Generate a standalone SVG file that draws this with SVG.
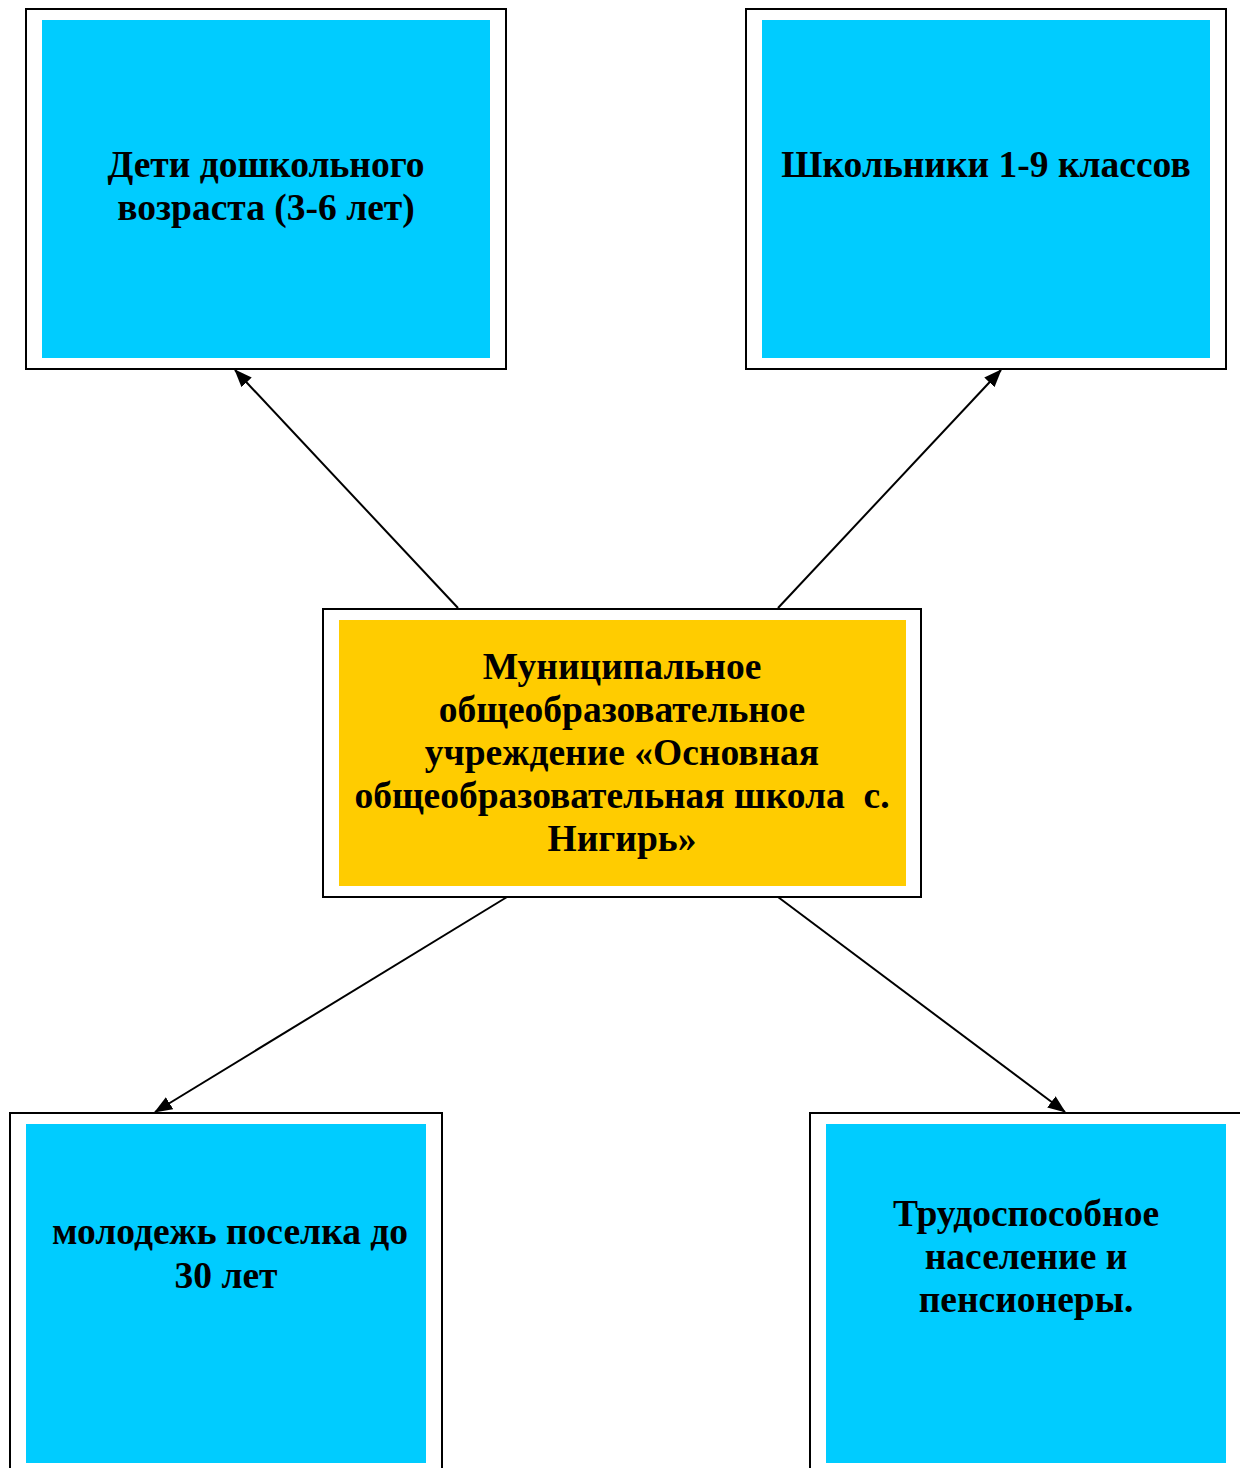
<svg xmlns="http://www.w3.org/2000/svg" width="1240" height="1468" viewBox="0 0 1240 1468">
<style>
.frame{fill:#fff;stroke:#000;stroke-width:2}
.blue{fill:#00ccff}
.gold{fill:#ffcc00}
.t{font-family:"Liberation Serif","Times New Roman",serif;font-weight:bold;font-size:37.5px;fill:#000;text-anchor:middle}
.c{stroke:#000;stroke-width:2;fill:none;marker-end:url(#ah)}
</style>
<defs>
<marker id="ah" markerWidth="18" markerHeight="14" refX="17" refY="7" orient="auto" markerUnits="userSpaceOnUse">
<path d="M0,0 L18,7 L0,14 Z" fill="#000"/>
</marker>
</defs>
<rect width="1240" height="1468" fill="#fff"/>
<g id="node-preschool">
<rect class="frame" x="26" y="9" width="480" height="360"/>
<rect class="blue" x="42" y="20" width="448" height="338"/>
<text class="t" x="266" y="177">Дети дошкольного</text>
<text class="t" x="266" y="220">возраста (3-6 лет)</text>
</g>
<g id="node-pupils">
<rect class="frame" x="746" y="9" width="480" height="360"/>
<rect class="blue" x="762" y="20" width="448" height="338"/>
<text class="t" x="986" y="177">Школьники 1-9 классов</text>
</g>
<g id="node-school">
<rect class="frame" x="323" y="609" width="598" height="288"/>
<rect class="gold" x="339" y="620" width="567" height="266"/>
<text class="t" x="622" y="679">Муниципальное</text>
<text class="t" x="622" y="722">общеобразовательное</text>
<text class="t" x="622" y="765">учреждение «Основная</text>
<text class="t" x="622" y="808" xml:space="preserve">общеобразовательная школа  с.</text>
<text class="t" x="622" y="851">Нигирь»</text>
</g>
<g id="node-youth">
<rect class="frame" x="10" y="1113" width="432" height="370"/>
<rect class="blue" x="26" y="1124" width="400" height="339"/>
<text class="t" x="230" y="1244">молодежь поселка до</text>
<text class="t" x="226" y="1288">30 лет</text>
</g>
<g id="node-adults">
<rect class="frame" x="810" y="1113" width="440" height="370"/>
<rect class="blue" x="826" y="1124" width="400" height="339"/>
<text class="t" x="1026" y="1226">Трудоспособное</text>
<text class="t" x="1026" y="1269">население и</text>
<text class="t" x="1026" y="1312">пенсионеры.</text>
</g>
<g id="connectors">
<line class="c" x1="458" y1="608" x2="235" y2="370"/>
<line class="c" x1="778" y1="608" x2="1001" y2="370"/>
<line class="c" x1="507" y1="897" x2="155" y2="1112"/>
<line class="c" x1="778" y1="897" x2="1065" y2="1112"/>
</g>
</svg>
